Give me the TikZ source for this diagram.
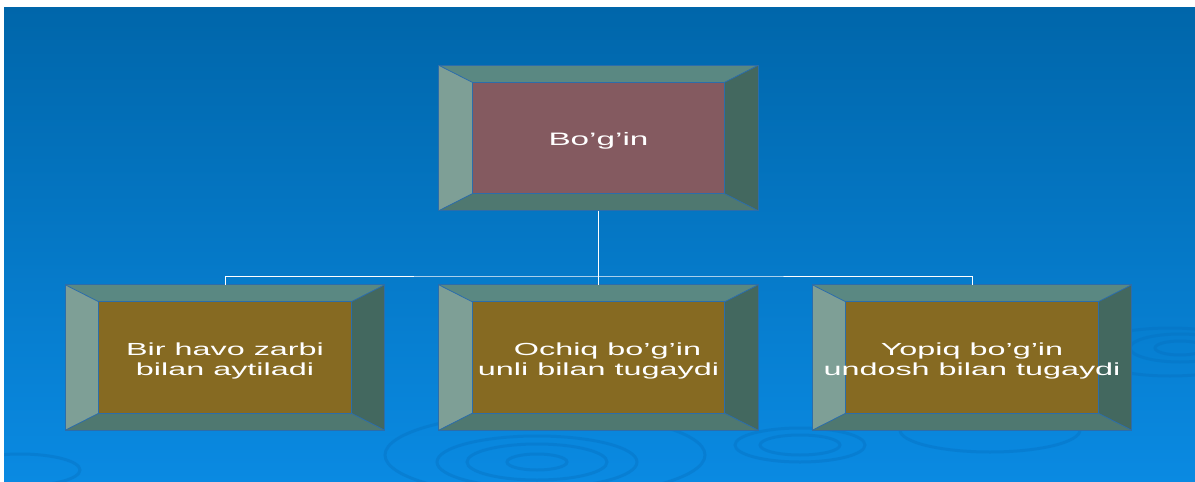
\documentclass[tikz,border=0pt]{standalone}
\usepackage{fontspec}
\setmainfont{Liberation Sans}
\newfontfamily\widefont[FakeStretch=1.85]{Liberation Sans}
\definecolor{bgtop}{HTML}{0066AA}
\definecolor{bgbot}{HTML}{0A8AE2}
\definecolor{ripple}{HTML}{0670C0}
\definecolor{bevT}{HTML}{5A8882}
\definecolor{bevL}{HTML}{7E9F96}
\definecolor{bevR}{HTML}{43685F}
\definecolor{bevB}{HTML}{4F7870}
\definecolor{edge}{HTML}{2C6DAA}
\definecolor{inRed}{HTML}{845A60}
\definecolor{inOlive}{HTML}{866A22}
\tikzset{
  outerbox/.style={rectangle, inner sep=0pt, minimum width=319pt, minimum height=145pt},
  innerbox/.style={rectangle, inner sep=0pt, minimum width=252pt, minimum height=111pt},
  boxtext/.style={inner sep=0pt, text=white, align=center, font=\widefont\fontsize{17.5}{20}\selectfont},
  bevline/.style={draw=edge, line width=0.8pt},
  conn/.style={draw=white, line width=1pt},
  ripl/.style={draw=ripple, line width=3pt, opacity=0.4}
}
\newcommand\bevbox[5]{%
  \node[outerbox] (#1) at (#2,#3) {};
  \node[innerbox, fill=#4] (#1i) at (#2,#3) {};
  \fill[bevT] (#1.north west) -- (#1.north east) -- (#1i.north east) -- (#1i.north west) -- cycle;
  \fill[bevL] (#1.north west) -- (#1i.north west) -- (#1i.south west) -- (#1.south west) -- cycle;
  \fill[bevR] (#1.north east) -- (#1i.north east) -- (#1i.south east) -- (#1.south east) -- cycle;
  \fill[bevB] (#1.south west) -- (#1i.south west) -- (#1i.south east) -- (#1.south east) -- cycle;
  \draw[bevline] (#1.north west) rectangle (#1.south east);
  \draw[bevline] (#1i.north west) rectangle (#1i.south east);
  \draw[bevline] (#1.north west) -- (#1i.north west) (#1.north east) -- (#1i.north east)
    (#1.south west) -- (#1i.south west) (#1.south east) -- (#1i.south east);
  \node[boxtext] (#1t) at ([yshift=-3pt]#1i.center) {#5};
}
\begin{document}
\begin{tikzpicture}[x=1pt,y=-1pt]
\useasboundingbox (0,0) rectangle (1195,482);
\fill[white] (0,0) rectangle (1195,482);
\shade[top color=bgtop, bottom color=bgbot] (4,7) rectangle (1195,482);
% ripples
\begin{scope}
\clip (4,7) rectangle (1195,482);
\draw[ripl] (537,462) ellipse [x radius=30, y radius=8];
\draw[ripl] (537,462) ellipse [x radius=70, y radius=18];
\draw[ripl] (537,462) ellipse [x radius=100, y radius=26];
\draw[ripl] (545,455) ellipse [x radius=160, y radius=42];
\draw[ripl] (800,445) ellipse [x radius=40, y radius=10];
\draw[ripl] (800,445) ellipse [x radius=65, y radius=17];
\draw[ripl] (1180,348) ellipse [x radius=25, y radius=7];
\draw[ripl] (1180,348) ellipse [x radius=50, y radius=14];
\draw[ripl] (1170,352) ellipse [x radius=85, y radius=24];
\draw[ripl] (990,430) ellipse [x radius=90, y radius=22];
\draw[ripl] (20,470) ellipse [x radius=60, y radius=16];
\end{scope}
\bevbox{top}{598.5}{138}{inRed}{\fontsize{18}{20}\selectfont Bo’g’in}
\bevbox{left}{225}{357.5}{inOlive}{Bir havo zarbi\\ bilan aytiladi}
\bevbox{mid}{598.5}{357.5}{inOlive}{\hspace*{18pt}Ochiq bo’g’in\\ unli bilan tugaydi}
\bevbox{right}{972}{357.5}{inOlive}{Yopiq bo’g’in\\undosh bilan tugaydi}
\coordinate (jn) at (598.5,276);
\draw[conn] (top.south) -- (jn);
\draw[conn] (left.north) |- (jn) -| (right.north);
\draw[conn] (jn) -- (mid.north);
\end{tikzpicture}
\end{document}
